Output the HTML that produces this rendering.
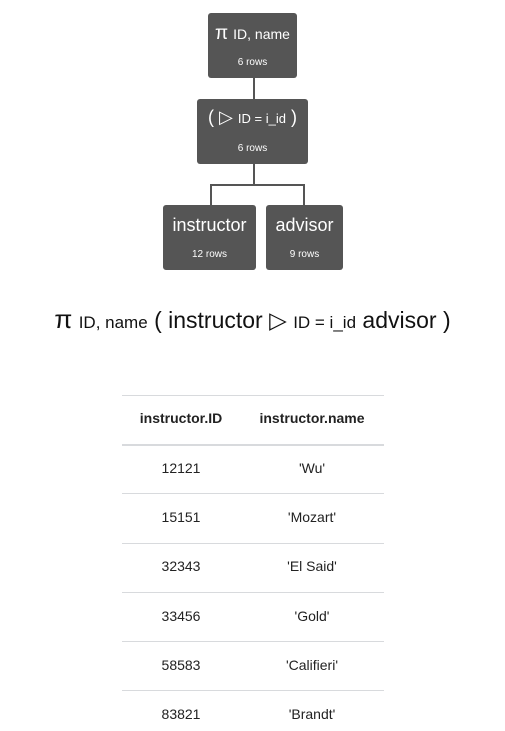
<!DOCTYPE html>
<html><head><style>
body{margin:0;width:505px;height:731px;background:#fff;font-family:"Liberation Sans",Arial,sans-serif;position:relative;overflow:hidden}
.n{position:absolute;background:#555;border-radius:3px;color:#fff;text-align:center}
.t{position:absolute;left:0;right:0;top:10px;font-size:18px;white-space:nowrap}
.r{position:absolute;left:0;right:0;top:44px;font-size:10px}
.l{position:absolute;background:#555}
.h{position:absolute;left:122px;width:262px;height:1px;background:#d8dadd}
.c{position:absolute;font-size:14px;color:#222;text-align:center}
</style></head><body>
<div class="n" style="left:208px;top:13px;width:89px;height:65px"><div class="t" style="top:10px"><span style="font-size:19px">π</span> <span style="font-size:14px">ID, name</span></div><div class="r">6 rows</div></div>
<div class="n" style="left:197px;top:99px;width:111px;height:65px"><div class="t" style="top:8px">( ▷ <span style="font-size:13px">ID = i_id</span> )</div><div class="r">6 rows</div></div>
<div class="n" style="left:163px;top:205px;width:93px;height:65px"><div class="t">instructor</div><div class="r">12 rows</div></div>
<div class="n" style="left:266px;top:205px;width:77px;height:65px"><div class="t">advisor</div><div class="r">9 rows</div></div>
<div class="l" style="left:253px;top:78px;width:2px;height:21px"></div>
<div class="l" style="left:253px;top:164px;width:2px;height:21px"></div>
<div class="l" style="left:210px;top:184px;width:95px;height:2px"></div>
<div class="l" style="left:210px;top:184px;width:2px;height:21px"></div>
<div class="l" style="left:303px;top:184px;width:2px;height:21px"></div>
<div style="position:absolute;left:0;width:505px;top:304px;text-align:center;font-size:23px;color:#111;white-space:nowrap"><span style="font-size:26px">π</span> <span style="font-size:17px">ID, name</span> ( instructor ▷ <span style="font-size:17px">ID = i_id</span> advisor )</div>
<div class="h" style="top:395px"></div>
<div class="c" style="left:122px;width:118px;top:410px;font-weight:bold">instructor.ID</div>
<div class="c" style="left:240px;width:144px;top:410px;font-weight:bold">instructor.name</div>
<div class="h" style="top:444px;height:2px"></div>
<div class="c" style="left:122px;width:118px;top:460px">12121</div><div class="c" style="left:240px;width:144px;top:460px">'Wu'</div>
<div class="h" style="top:493px"></div>
<div class="c" style="left:122px;width:118px;top:509px">15151</div><div class="c" style="left:240px;width:144px;top:509px">'Mozart'</div>
<div class="h" style="top:543px"></div>
<div class="c" style="left:122px;width:118px;top:558px">32343</div><div class="c" style="left:240px;width:144px;top:558px">'El Said'</div>
<div class="h" style="top:592px"></div>
<div class="c" style="left:122px;width:118px;top:608px">33456</div><div class="c" style="left:240px;width:144px;top:608px">'Gold'</div>
<div class="h" style="top:641px"></div>
<div class="c" style="left:122px;width:118px;top:657px">58583</div><div class="c" style="left:240px;width:144px;top:657px">'Califieri'</div>
<div class="h" style="top:690px"></div>
<div class="c" style="left:122px;width:118px;top:706px">83821</div><div class="c" style="left:240px;width:144px;top:706px">'Brandt'</div>
</body></html>
